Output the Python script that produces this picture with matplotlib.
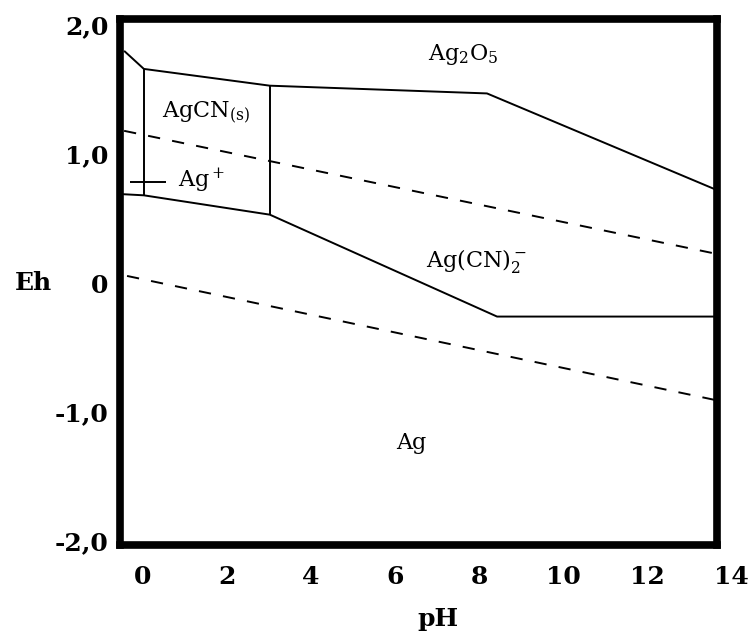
import matplotlib
matplotlib.use("Agg")
import matplotlib.pyplot as plt
import matplotlib.transforms as mtransforms

plt.rcParams['font.family'] = ['DejaVu Serif']
plt.rcParams['mathtext.fontset'] = 'custom'
plt.rcParams['mathtext.rm'] = 'DejaVu Serif'
plt.rcParams['mathtext.default'] = 'regular'

# ---- data (pH, Eh) ----
upper_ph = [-0.45, 0.02, 3.02, 8.19, 13.67]
upper_eh = [1.80, 1.66, 1.53, 1.47, 0.72]

lower_ph = [-0.55, 0.02, 3.02, 8.43, 13.67]
lower_eh = [0.69, 0.68, 0.53, -0.26, -0.26]

vert1_ph = [0.02, 0.02]
vert1_eh = [0.68, 1.66]
vert2_ph = [3.02, 3.02]
vert2_eh = [0.53, 1.53]

agplus_ph = [-0.31, 0.55]
agplus_eh = [0.78, 0.78]

o2_ph = [-0.45, 13.67]
o2_eh = [1.18, 0.225]
h2_ph = [-0.38, 13.67]
h2_eh = [0.055, -0.91]

x_ticks = [0, 2, 4, 6, 8, 10, 12, 14]
y_ticks = [2, 1, 0, -1, -2]
y_ticklabels = ["2,0", "1,0", "0", "-1,0", "-2,0"]

labels = [
    ("Ag$_2$O$_5$", 6.78, 1.73),
    ("AgCN$_{(s)}$", 0.45, 1.28),
    ("Ag$^+$", 0.83, 0.74),
    ("Ag(CN)$_2^-$", 6.74, 0.125),
    ("Ag", 6.02, -1.29),
]

fig = plt.figure(figsize=(7.54, 6.32), dpi=100)
ax = fig.add_axes([120/754, 1 - 545/632, (717-120)/754, (545-19)/632])
ax.set_xlim(-0.548, 13.667)
ax.set_ylim(-2.031, 2.047)

for s in ax.spines.values():
    s.set_linewidth(5.5)
    s.set_color('black')

lw = 1.4
for xs, ys in [(upper_ph, upper_eh), (lower_ph, lower_eh), (vert1_ph, vert1_eh),
               (vert2_ph, vert2_eh), (agplus_ph, agplus_eh)]:
    ax.plot(xs, ys, color='black', lw=lw, solid_capstyle='butt')

dash = (0, (6.3, 6.3))
ax.plot(o2_ph, o2_eh, color='black', lw=1.4, linestyle=dash)
ax.plot(h2_ph, h2_eh, color='black', lw=1.4, linestyle=dash)

for txt, x, y in labels:
    ax.text(x, y, txt, fontsize=16, ha='left', va='baseline', color='black')

# y tick labels
ax.set_yticks(y_ticks)
ax.set_yticklabels(y_ticklabels, fontsize=18, fontweight='bold')
ax.tick_params(axis='y', length=0, pad=8.5)
ax.set_xticks([])

# x tick labels (14 lies beyond the frame, as in the reference)
trans = mtransforms.blended_transform_factory(ax.transData, fig.transFigure)
for t in x_ticks:
    ax.text(t, 1 - 577/632, str(t), transform=trans, ha='center', va='center',
            fontsize=18, fontweight='bold', clip_on=False)

fig.text(33/754, 1 - 283/632, "Eh", ha='center', va='center', fontsize=18, fontweight='bold')
fig.text(438/754, 1 - 619/632, "pH", ha='center', va='center', fontsize=18, fontweight='bold')

fig.savefig("out.png", dpi=100)
